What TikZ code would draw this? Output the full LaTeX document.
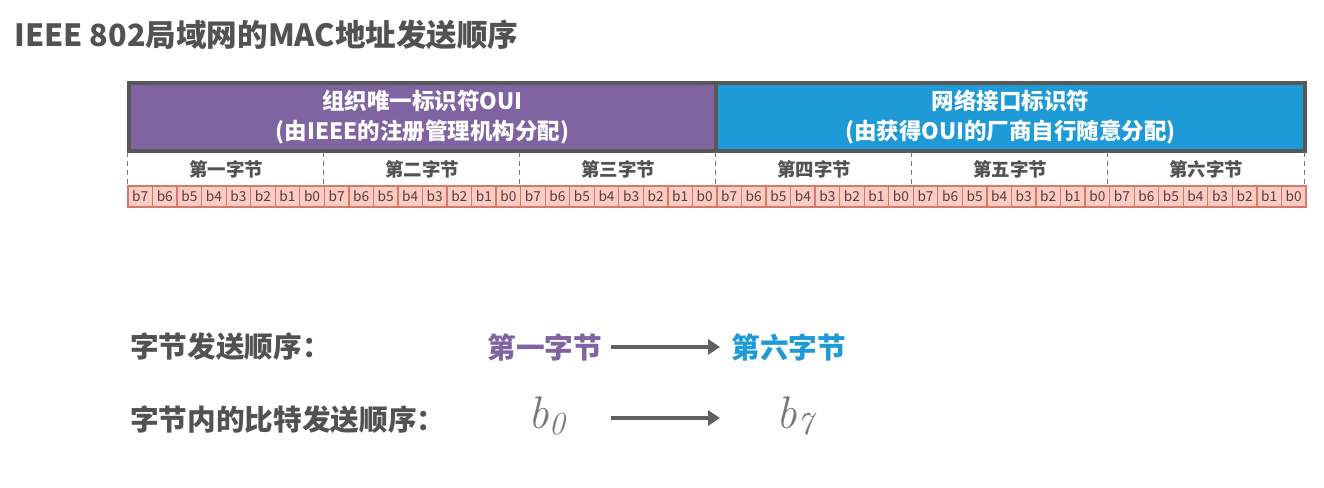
\documentclass[tikz,border=0pt]{standalone}
\usepackage{fontspec}
\setmainfont{Noto Sans CJK SC}
\usepackage{tikz}
\usetikzlibrary{arrows.meta, positioning}
\definecolor{ouiPurple}{RGB}{128,100,162}
\definecolor{nicBlue}{RGB}{30,155,215}
\definecolor{frameGray}{RGB}{88,88,88}
\definecolor{textGray}{RGB}{82,82,82}
\definecolor{mathGray}{RGB}{120,120,120}
\definecolor{bitFill}{RGB}{250,205,195}
\definecolor{bitLine}{RGB}{215,120,110}
\definecolor{bitText}{RGB}{95,60,55}

\begin{document}
\begin{tikzpicture}[x=0.2mm, y=-0.2mm, >=Stealth,
    every node/.style={inner sep=0pt},
    field/.style={draw=frameGray, line width=0.9mm, text=white, align=center,
        minimum height=13.6mm, font=\bfseries\fontsize{12.8}{17.5}\selectfont},
    bytebox/.style={minimum width=39.2mm, minimum height=6.8mm, text=textGray,
        font=\bfseries\fontsize{10.5}{12}\selectfont},
    bytesep/.style={draw=frameGray!80, line width=0.3mm, dash pattern=on 1mm off 0.8mm},
    bitcell/.style={draw=bitLine, fill=bitFill, line width=0.25mm, minimum width=4.9mm,
        minimum height=4.2mm, text=bitText, font=\fontsize{7.8}{8}\selectfont},
    label/.style={anchor=west, text=textGray, font=\bfseries\fontsize{16.3}{19}\selectfont},
    mathlbl/.style={anchor=base west, text=mathGray,
        font=\fontfamily{lmr}\itshape\fontsize{26}{30}\selectfont},
    flow/.style={->, line width=0.8mm, draw=frameGray!95,
        -{Triangle[length=2.4mm, width=3mm]}}]
    \useasboundingbox (0,0) rectangle (1324,487);

    % Title
    \node[anchor=west, text=textGray, font=\bfseries\fontsize{17.4}{20}\selectfont] (title) at (14,35) {IEEE 802局域网的MAC地址发送顺序};

    % Nodes
    \node[field, fill=ouiPurple, minimum width=117.4mm] (oui) at (422.5,117) {组织唯一标识符OUI\\(由IEEE的注册管理机构分配)};
    \node[field, fill=nicBlue, minimum width=117.8mm] (nic) at (1010.5,117) {网络接口标识符\\(由获得OUI的厂商自行随意分配)};

    \foreach \i/\txt in {1/第一字节, 2/第二字节, 3/第三字节, 4/第四字节, 5/第五字节, 6/第六字节} {
        \node[bytebox] (byte\i) at ({128+196*\i-98},169) {\txt};
        \draw[bytesep] (byte\i.north west) -- (byte\i.south west);
    }
    \draw[bytesep] (byte6.north east) -- (byte6.south east);

    \foreach \k in {0,...,47} {
        \pgfmathtruncatemacro\bitno{7-mod(\k,8)}
        \node[bitcell] (bit\k) at ({140.27+24.54*\k},196.5) {b\bitno};
    }

    \node[label] (byteorder) at (130,347) {字节发送顺序：};
    \node[label, text=ouiPurple] (first) at (487,347) {第一字节};
    \node[label, text=nicBlue] (sixth) at (731,347) {第六字节};

    \node[label] (bitorder) at (130,420) {字节内的比特发送顺序：};
    \node[mathlbl] (lsb) at (528,428) {b\textsubscript{0}};
    \node[mathlbl] (msb) at (776,428) {b\textsubscript{7}};

    % Directed edges
    \draw[flow, shorten <=1.8mm, shorten >=2.2mm] (first) -- (sixth);
    \draw[flow, shorten <=9mm, shorten >=11.2mm] (lsb.east |- 0,418) -- (msb.west |- 0,418);
\end{tikzpicture}
\end{document}
